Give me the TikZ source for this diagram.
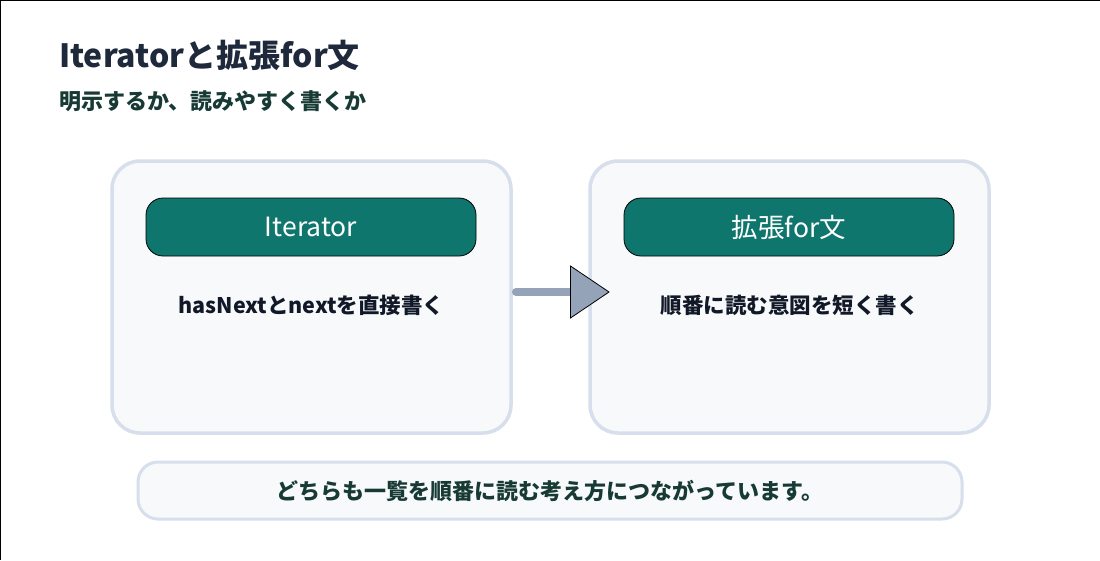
\documentclass[tikz,border=0pt]{standalone}
\usepackage{fontspec}
\setmainfont{Noto Sans CJK JP}
\newfontfamily\jp{Noto Sans CJK JP}
\definecolor{titlec}{HTML}{1E293B}
\definecolor{subc}{HTML}{173A35}
\definecolor{panelfill}{HTML}{F7F9FB}
\definecolor{panelline}{HTML}{D6DFEB}
\definecolor{pill}{HTML}{0F766E}
\definecolor{arrowc}{HTML}{94A3B8}
\definecolor{bodyc}{HTML}{111827}
\tikzset{
  panel/.style={draw=panelline, line width=3.5pt, fill=panelfill, rounded corners=28pt},
  pillbox/.style={draw=black, line width=0.8pt, fill=pill, rounded corners=17pt, minimum width=330pt, minimum height=58pt, inner sep=0pt, text=white, font=\jp\fontsize{26.5}{30}\selectfont},
  bodytext/.style={text=bodyc, font=\jp\bfseries\fontsize{21.5}{26}\selectfont, inner sep=0pt},
  notebox/.style={draw=panelline, line width=3pt, fill=panelfill, rounded corners=20pt, minimum width=824pt, minimum height=57pt, inner sep=0pt, text=subc, font=\jp\bfseries\fontsize{22}{26}\selectfont},
}
\begin{document}
\begin{tikzpicture}[x=1pt,y=-1pt]
\useasboundingbox (0,0) rectangle (1100,560);
\fill[white] (0,0) rectangle (1100,560);
\draw[black, line width=1.5pt] (0,560) -- (0,0) -- (1100,0);
\node[anchor=base west, inner sep=0pt, text=titlec, font=\jp\bfseries\fontsize{32}{38}\selectfont] (title) at (59,67) {Iteratorと拡張for文};
\node[anchor=base west, inner sep=0pt, text=subc, font=\jp\bfseries\fontsize{22}{26}\selectfont] (sub) at (59,109) {明示するか、読みやすく書くか};
% panels
\draw[panel] (112,161) rectangle (511,433);
\draw[panel] (590,161) rectangle (989,433);
\node[pillbox] (h1) at (311,227) {Iterator};
\node[pillbox] (h2) at (789,227) {拡張for文};
\node[bodytext] (b1) at (311.5,305) {hasNextとnextを直接書く};
\node[bodytext] (b2) at (789.5,305) {順番に読む意図を短く書く};
% arrow
\coordinate (as) at (516,292);
\coordinate (ae) at (571,292);
\draw[arrowc, line width=8pt, line cap=round] (as) -- (ae);
\draw[black, line width=0.8pt, fill=arrowc, line join=miter] (570.5,266) -- (609,292) -- (570.5,318) -- cycle;
% note
\node[notebox] (note) at (550,490.5) {どちらも一覧を順番に読む考え方につながっています。};
\end{tikzpicture}
\end{document}
